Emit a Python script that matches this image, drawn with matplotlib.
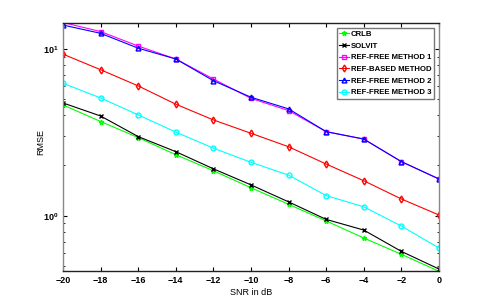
import matplotlib
matplotlib.use("Agg")
import matplotlib.pyplot as plt

plt.rcParams['font.family'] = ['Liberation Sans Narrow', 'Liberation Sans', 'DejaVu Sans']
plt.rcParams['font.size'] = 7
plt.rcParams['font.weight'] = 'bold'

snr = [-20, -18, -16, -14, -12, -10, -8, -6, -4, -2, 0]

crlb = [4.61, 3.67, 2.94, 2.32, 1.86, 1.47, 1.17, 0.93, 0.735, 0.587, 0.464]
solvit = [4.74, 3.96, 2.98, 2.42, 1.91, 1.53, 1.21, 0.95, 0.82, 0.611, 0.479]
ref_free1 = [14.4, 12.7, 10.4, 8.7, 6.6, 5.05, 4.27, 3.19, 2.88, 2.11, 1.66]
ref_based = [9.3, 7.5, 6.0, 4.66, 3.75, 3.12, 2.59, 2.04, 1.62, 1.26, 1.01]
ref_free2 = [13.9, 12.4, 10.1, 8.7, 6.45, 5.13, 4.37, 3.19, 2.88, 2.11, 1.66]
ref_free3 = [6.22, 5.08, 4.02, 3.17, 2.54, 2.09, 1.75, 1.32, 1.13, 0.867, 0.64]

series = [
    ("CRLB", crlb, '#00ff00', '*'),
    ("SOLVIT", solvit, 'black', 'x'),
    ("REF-FREE METHOD 1", ref_free1, '#ff00ff', 's'),
    ("REF-BASED METHOD", ref_based, '#ff0000', 'd'),
    ("REF-FREE METHOD 2", ref_free2, '#0000ff', '^'),
    ("REF-FREE METHOD 3", ref_free3, '#00ffff', 'o'),
]

fig = plt.figure(figsize=(4.85, 3.05), dpi=100)
ax = fig.add_axes([0.13, 0.1115, 0.775, 0.8131])

for name, vals, col, mk in series:
    ax.plot(snr, vals, color=col, marker=mk, markersize=3.5, markerfacecolor='none',
            markeredgecolor=col, linewidth=0.8, label=name)

ax.set_yscale('log')
ax.set_xlim(-20, 0)
ax.set_ylim(0.466, 14.3)
ax.set_xticks(snr)
ax.tick_params(direction='in', length=3, width=0.8, labelsize=6.5)
ax.tick_params(which='minor', direction='in', length=1.5, width=0.6)
ax.tick_params(top=True, right=True, which='both')
for s in ['left', 'right']:
    ax.spines[s].set_color('#888888')
for s in ['top', 'bottom']:
    ax.spines[s].set_color('#222222')
for s in ax.spines.values():
    s.set_linewidth(1.0)

ax.set_xlabel("SNR in dB", fontsize=6.5, labelpad=2)
ax.set_ylabel("RMSE", fontsize=6.5)
ax.yaxis.set_label_coords(-0.048, 0.52)

leg = ax.legend(loc='upper right', fontsize=5.6, frameon=True, fancybox=False,
                handlelength=1.3, handletextpad=0.2, borderpad=0.35,
                labelspacing=0.55, borderaxespad=0.6)
leg.get_frame().set_edgecolor('#555555')
leg.get_frame().set_linewidth(1.0)

fig.savefig('out.png', dpi=100)
